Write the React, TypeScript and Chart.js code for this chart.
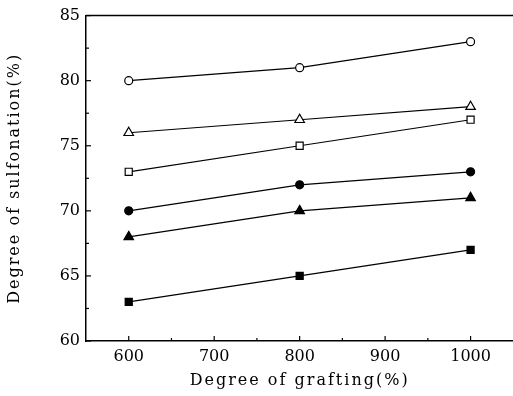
import React, { useEffect, useRef } from "react";
import { Chart, registerables } from "chart.js";

Chart.register(...registerables);

const grafting = [600, 800, 1000];
const openCircle = [80, 81, 83];
const openTriangle = [76, 77, 78];
const openSquare = [73, 75, 77];
const filledCircle = [70, 72, 73];
const filledTriangle = [68, 70, 71];
const filledSquare = [63, 65, 67];
const xTicks = [600, 700, 800, 900, 1000];
const xMinor = [650, 750, 850, 950];
const yTicks = [60, 65, 70, 75, 80, 85];
const yMinor = [62.5, 67.5, 72.5, 77.5, 82.5];

const FONT = "'DejaVu Serif', serif";

const series = [
  { data: openCircle, style: "circle", filled: false, r: 4 },
  { data: openTriangle, style: "triangle", filled: false, r: 5.5 },
  { data: openSquare, style: "rect", filled: false, r: 5 },
  { data: filledCircle, style: "circle", filled: true, r: 4 },
  { data: filledTriangle, style: "triangle", filled: true, r: 5.5 },
  { data: filledSquare, style: "rect", filled: true, r: 5 },
];

const spacedTitle = (scale: any) => {
  if (scale._spaced) return;
  scale._spaced = true;
  const orig = scale.drawTitle.bind(scale);
  scale.drawTitle = (...args: any[]) => {
    const ctx = scale.ctx;
    ctx.save();
    ctx.letterSpacing = "2px";
    orig(...args);
    ctx.restore();
  };
};

const framePlugin = {
  id: "frame",
  afterDatasetsDraw(chart: any) {
    const { ctx, chartArea, scales } = chart;
    ctx.save();
    ctx.strokeStyle = "#000";
    ctx.lineWidth = 1.5;
    ctx.beginPath();
    ctx.moveTo(chartArea.left, chartArea.top);
    ctx.lineTo(chartArea.right + 10, chartArea.top);
    ctx.stroke();
    ctx.lineWidth = 1.2;
    const x = scales.x;
    const y = scales.y;
    const drawX = (v: number, len: number) => {
      const px = x.getPixelForValue(v);
      ctx.beginPath();
      ctx.moveTo(px, chartArea.bottom);
      ctx.lineTo(px, chartArea.bottom - len);
      ctx.stroke();
    };
    const drawY = (v: number, len: number) => {
      const py = y.getPixelForValue(v);
      ctx.beginPath();
      ctx.moveTo(chartArea.left, py);
      ctx.lineTo(chartArea.left + len, py);
      ctx.stroke();
    };
    xTicks.forEach((v) => drawX(v, 5));
    xMinor.forEach((v) => drawX(v, 3));
    yTicks.forEach((v) => drawY(v, 5));
    yMinor.forEach((v) => drawY(v, 3));
    ctx.restore();
  },
};

export default function App() {
  const ref = useRef<HTMLCanvasElement>(null);
  useEffect(() => {
    if (!ref.current) return;
    const chart = new Chart(ref.current, {
      type: "line",
      data: {
        datasets: series.map((s) => ({
          data: grafting.map((g, i) => ({ x: g, y: s.data[i] })),
          borderColor: "#000",
          borderWidth: 1.2,
          pointStyle: s.style as any,
          pointRadius: s.r,
          pointBorderWidth: 1.2,
          pointBorderColor: "#000",
          pointBackgroundColor: s.filled ? "#000" : "#fff",
          fill: false,
          tension: 0,
        })),
      },
      options: {
        responsive: false,
        animation: false,
        layout: { padding: { top: 15, right: 4, left: 0, bottom: 0 } },
        plugins: { legend: { display: false }, tooltip: { enabled: false } },
        scales: {
          x: {
            type: "linear",
            min: 550,
            max: 1050,
            afterBuildTicks: (scale: any) => {
              scale.ticks = xTicks.map((v) => ({ value: v }));
            },
            afterFit: (scale: any) => {
              scale.height = 55;
              spacedTitle(scale);
            },
            grid: { display: true, drawOnChartArea: false, drawTicks: false },
            border: { display: true, color: "#000", width: 1.5 },
            ticks: {
              color: "#000",
              font: { family: FONT, size: 16 },
              padding: 6,
              maxRotation: 0,
              autoSkip: false,
              callback: (v: any) => String(v),
            },
            title: {
              display: true,
              text: "Degree of grafting(%)",
              color: "#000",
              font: { family: FONT, size: 16 },
              padding: { top: 6, bottom: 6 },
            },
          },
          y: {
            type: "linear",
            min: 60,
            max: 85,
            afterBuildTicks: (scale: any) => {
              scale.ticks = yTicks.map((v) => ({ value: v }));
            },
            afterFit: (scale: any) => {
              scale.width = 86;
              spacedTitle(scale);
            },
            grid: { display: true, drawOnChartArea: false, drawTicks: false },
            border: { display: true, color: "#000", width: 1.5 },
            ticks: {
              color: "#000",
              font: { family: FONT, size: 16 },
              padding: 6,
              callback: (v: any) => String(v),
            },
            title: {
              display: true,
              text: "Degree of sulfonation(%)",
              color: "#000",
              font: { family: FONT, size: 16 },
              padding: { top: 5, bottom: 5 },
            },
          },
        },
      },
      plugins: [framePlugin],
    });
    return () => chart.destroy();
  }, []);
  return (
    <div
      style={{
        position: "fixed",
        left: 0,
        top: 0,
        width: 513,
        height: 396,
        overflow: "hidden",
        background: "#fff",
      }}
    >
      <canvas ref={ref} width={520} height={396} style={{ width: 520, height: 396, display: "block" }} />
    </div>
  );
}
